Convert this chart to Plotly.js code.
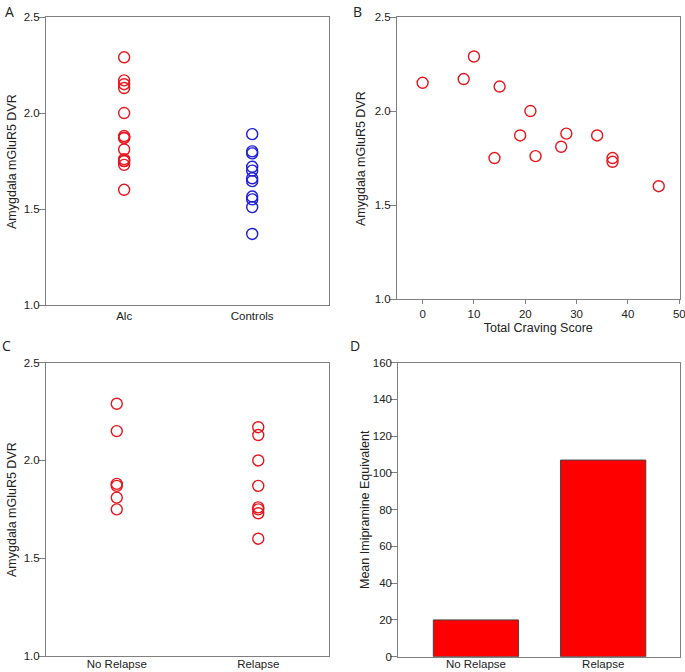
<!DOCTYPE html>
<html>
<head>
<meta charset="utf-8">
<script src="https://cdn.plot.ly/plotly-3.0.1.min.js"></script>
<style>html,body{margin:0;padding:0;background:#fff;}#chart{width:685px;height:672px;}</style>
</head>
<body>
<div id="chart"></div>
<script>
// Panel A
const groupsA = ["Alc", "Controls"];
const alcDVR = [2.29, 2.17, 2.15, 2.13, 2.0, 1.88, 1.87, 1.87, 1.81, 1.76, 1.75, 1.75, 1.73, 1.60];
const controlDVR = [1.89, 1.80, 1.79, 1.72, 1.70, 1.66, 1.645, 1.565, 1.55, 1.51, 1.37];
// Panel B
const cravingScore = [10, 8, 0, 15, 21, 28, 19, 34, 27, 22, 14, 37, 37, 46];
const cravingDVR   = [2.29, 2.17, 2.15, 2.13, 2.0, 1.88, 1.87, 1.87, 1.81, 1.76, 1.75, 1.75, 1.73, 1.60];
// Panel C
const groupsC = ["No Relapse", "Relapse"];
const noRelapseDVR = [2.29, 2.15, 1.88, 1.87, 1.81, 1.75];
const relapseDVR = [2.17, 2.13, 2.0, 1.87, 1.76, 1.75, 1.73, 1.60];
// Panel D
const imipramine = [20, 107];
const dvrTicks = [1.0, 1.5, 2.0, 2.5];
const dvrTickText = ["1.0", "1.5", "2.0", "2.5"];
const cravingTicks = [0, 10, 20, 30, 40, 50];
const dvrTitle = "Amygdala mGluR5 DVR";
const imiTitle = "Mean Imipramine Equivalent";

const RED = "#e8141c", BLUE = "#1c1cd6", AX = "#7f7f7f", TXT = "#222";
const FONT = "Liberation Sans";
const mk = c => ({symbol: "circle-open", size: 11, color: c, line: {width: 1.4, color: c}});
const rep = (v, n) => Array(n).fill(v);

const traces = [
  {type: "scatter", mode: "markers", x: rep(groupsA[0], alcDVR.length), y: alcDVR, marker: mk(RED), xaxis: "x", yaxis: "y"},
  {type: "scatter", mode: "markers", x: rep(groupsA[1], controlDVR.length), y: controlDVR, marker: mk(BLUE), xaxis: "x", yaxis: "y"},
  {type: "scatter", mode: "markers", x: cravingScore, y: cravingDVR, marker: mk(RED), xaxis: "x2", yaxis: "y2"},
  {type: "scatter", mode: "markers", x: rep(groupsC[0], noRelapseDVR.length), y: noRelapseDVR, marker: mk(RED), xaxis: "x3", yaxis: "y3"},
  {type: "scatter", mode: "markers", x: rep(groupsC[1], relapseDVR.length), y: relapseDVR, marker: mk(RED), xaxis: "x3", yaxis: "y3"},
  {type: "bar", x: groupsC, y: imipramine, width: 0.67, marker: {color: "#ff0000", line: {color: "#444", width: 1}}, xaxis: "x4", yaxis: "y4"}
];

const tf = {family: FONT, size: 11.5, color: TXT};
const titleFont = {family: FONT, size: 12.5, color: TXT};
const baseAx = {showline: true, mirror: true, linecolor: AX, linewidth: 1, showgrid: false, zeroline: false, tickfont: tf, fixedrange: true, ticklabeloverflow: "allow"};
const catX = r => Object.assign({}, baseAx, {type: "category", range: r, ticks: "", ticklen: 0});
const dvrY = (anchor) => Object.assign({}, baseAx, {range: [1.0, 2.5], tickvals: dvrTicks, ticktext: dvrTickText, ticks: "outside", ticklen: 7, tickcolor: AX, anchor: anchor,
  ticklabelstandoff: -4});

const letterFont = {family: "Open Sans", size: 14, color: TXT};
const ytitle = (text, xpx, ypx) => ({text: text, x: xpx / 685, y: 1 - ypx / 672, xref: "paper", yref: "paper", xanchor: "center", yanchor: "middle",
  textangle: -90, showarrow: false, font: titleFont});
const letter = (text, x, y) => ({text: text, x: x, y: y, xref: "paper", yref: "paper", xanchor: "left", yanchor: "top", showarrow: false, font: letterFont});

const layout = {
  width: 685, height: 672, margin: {l: 0, r: 0, t: 0, b: 0},
  paper_bgcolor: "#fff", plot_bgcolor: "#fff", showlegend: false,
  font: {family: FONT, color: TXT},
  xaxis: Object.assign(catX([-0.61, 1.6]), {domain: [0.0672, 0.4803], anchor: "y"}),
  yaxis: Object.assign(dvrY("x"), {domain: [0.5461, 0.9747]}),
  xaxis2: Object.assign({}, baseAx, {domain: [0.5795, 0.992], anchor: "y2", range: [-5, 50.05], tickvals: cravingTicks, ticks: "outside", ticklen: 4, tickcolor: AX,
    title: {text: "Total Craving Score", font: titleFont, standoff: 4}}),
  yaxis2: Object.assign(dvrY("x2"), {domain: [0.555, 0.9747]}),
  xaxis3: Object.assign(catX([-0.5, 1.5]), {domain: [0.0672, 0.4803], anchor: "y3", ticklabelstandoff: -3}),
  yaxis3: Object.assign(dvrY("x3"), {domain: [0.0238, 0.4603]}),
  xaxis4: Object.assign(catX([-0.61, 1.6]), {domain: [0.5815, 0.992], anchor: "y4", ticklabelstandoff: -3}),
  yaxis4: Object.assign({}, baseAx, {domain: [0.0228, 0.4603], anchor: "x4", range: [0, 160], dtick: 20, ticks: "outside", ticklen: 7, tickcolor: AX,
    ticklabelstandoff: -4}),
  annotations: [
    letter("A", 0.004, 1), letter("B", 0.513, 1), letter("C", 0, 0.503), letter("D", 0.508, 0.503),
    ytitle(dvrTitle, 12, 162), ytitle(dvrTitle, 361, 158), ytitle(dvrTitle, 12, 510), ytitle(imiTitle, 365, 510)
  ]
};
Plotly.newPlot("chart", traces, layout, {displayModeBar: false, staticPlot: true});
</script>
</body>
</html>
